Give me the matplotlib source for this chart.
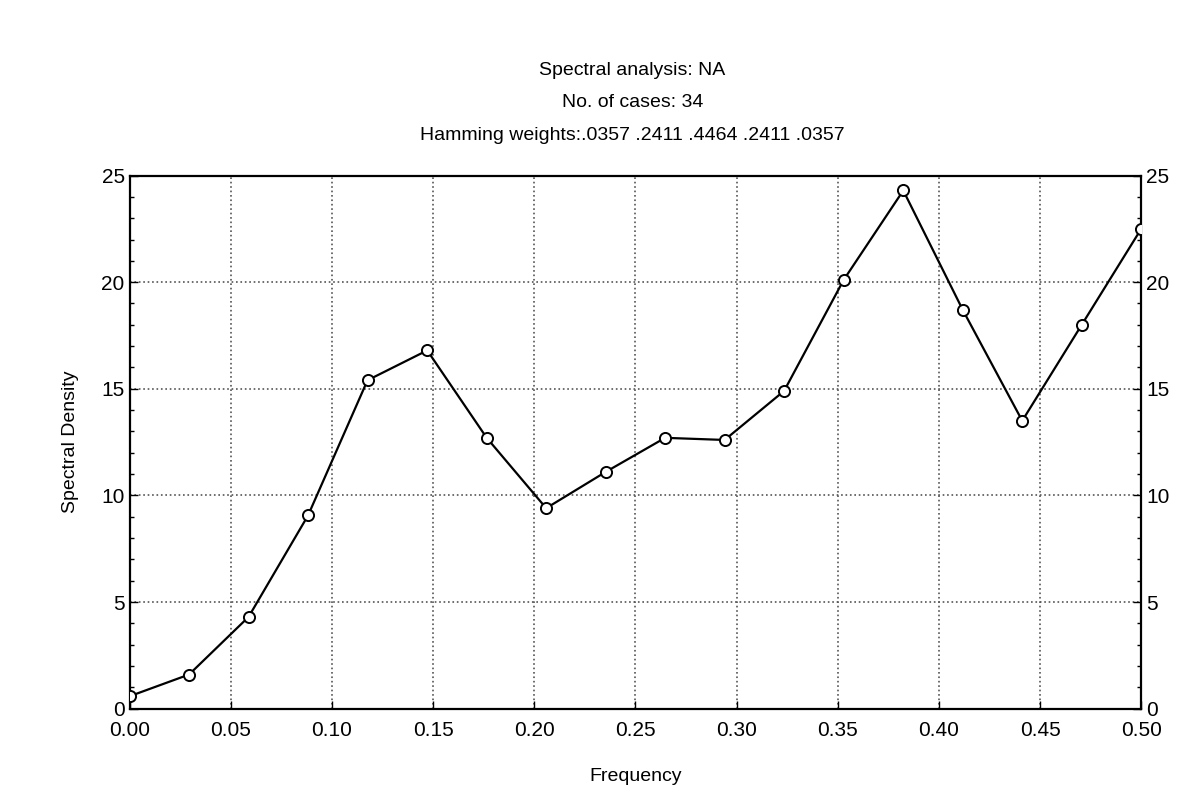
import matplotlib
matplotlib.use("Agg")
import matplotlib.pyplot as plt
from matplotlib.ticker import MultipleLocator

plt.rcParams['font.family'] = ['Liberation Sans', 'DejaVu Sans']

# Spectral density vs frequency (34 cases, Hamming window)
frequency = [0.0, 0.0294, 0.0588, 0.0882, 0.1176, 0.1471, 0.1765, 0.2059, 0.2353,
             0.2647, 0.2941, 0.3235, 0.3529, 0.3824, 0.4118, 0.4412, 0.4706, 0.5]
density = [0.58, 1.6, 4.3, 9.06, 15.4, 16.8, 12.7, 9.4, 11.1,
           12.7, 12.6, 14.9, 20.1, 24.3, 18.7, 13.5, 18.0, 22.5]

x_ticks = [0.0, 0.05, 0.10, 0.15, 0.20, 0.25, 0.30, 0.35, 0.40, 0.45, 0.50]
x_labels = ["0.00", "0.05", "0.10", "0.15", "0.20", "0.25", "0.30", "0.35", "0.40", "0.45", "0.50"]
y_ticks = [0, 5, 10, 15, 20, 25]

title_lines = ["Spectral analysis: NA",
               "No. of cases: 34",
               "Hamming weights:.0357 .2411 .4464 .2411 .0357"]

fig = plt.figure(figsize=(12, 7.98), dpi=100)
ax = fig.add_axes([0.108, 0.112, 0.843, 0.668])

ax.plot(frequency, density, color='black', linewidth=1.6, marker='o',
        markersize=8, markerfacecolor='white', markeredgecolor='black',
        markeredgewidth=1.4, zorder=3)

ax.set_xlim(0, 0.5)
ax.set_ylim(0, 25)
ax.set_xticks(x_ticks)
ax.set_xticklabels(x_labels)
ax.set_yticks(y_ticks)
ax.yaxis.set_minor_locator(MultipleLocator(1))

ax.grid(True, which='major', linestyle=':', color='#555555', linewidth=1.2)

ax.tick_params(axis='both', which='major', direction='in', length=6, width=1,
               labelsize=15, right=True, labelright=True, top=False)
ax.tick_params(axis='y', which='minor', direction='in', length=3, width=1, right=True)
ax.tick_params(axis='x', which='major', pad=9)

for s in ax.spines.values():
    s.set_linewidth(1.6)
    s.set_color('black')

ax.set_xlabel("Frequency", fontsize=14, labelpad=20)
ax.set_ylabel("Spectral Density", fontsize=14, labelpad=16)

for i, line in enumerate(title_lines):
    fig.text(0.527, 0.912 - i * 0.041, line, ha='center', va='center', fontsize=14)

fig.savefig("out.png", dpi=100)
